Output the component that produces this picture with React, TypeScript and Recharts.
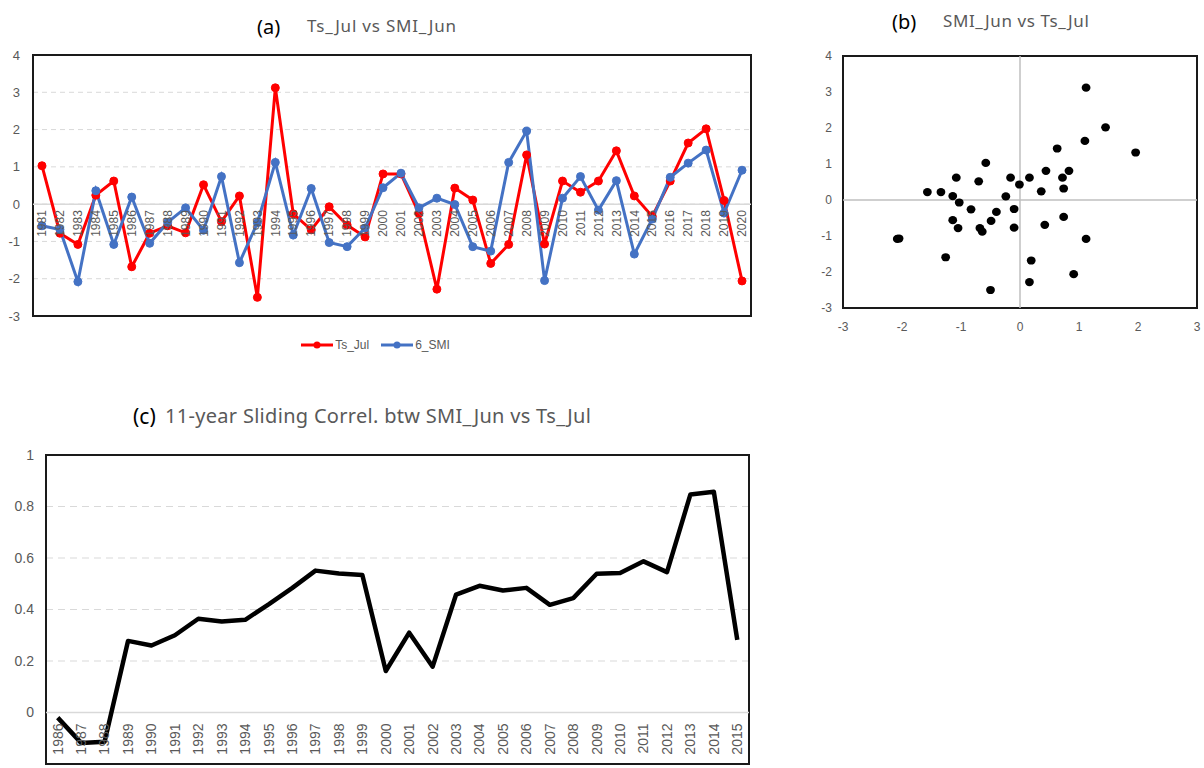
import React from "react";
import {
  LineChart,
  Line,
  ScatterChart,
  Scatter,
  XAxis,
  YAxis,
  CartesianGrid,
  ReferenceLine,
  ReferenceArea,
  Legend,
} from "recharts";

const years = [
  "1981", "1982", "1983", "1984", "1985", "1986", "1987", "1988", "1989", "1990",
  "1991", "1992", "1993", "1994", "1995", "1996", "1997", "1998", "1999", "2000",
  "2001", "2002", "2003", "2004", "2005", "2006", "2007", "2008", "2009", "2010",
  "2011", "2012", "2013", "2014", "2015", "2016", "2017", "2018", "2019", "2020",
];

// Ts_Jul (red)
const tsJul = [
  1.03, -0.78, -1.08, 0.24, 0.62, -1.68, -0.78, -0.58, -0.77, 0.52,
  -0.47, 0.22, -2.5, 3.12, -0.26, -0.69, -0.07, -0.56, -0.88, 0.81,
  0.81, -0.25, -2.28, 0.43, 0.11, -1.59, -1.08, 1.32, -1.07, 0.62,
  0.32, 0.62, 1.43, 0.22, -0.33, 0.62, 1.64, 2.02, 0.1, -2.06,
];

// 6_SMI (blue) = SMI_Jun
const smiJun = [
  -0.58, -0.68, -2.08, 0.36, -1.08, 0.19, -1.05, -0.49, -0.1, -0.7,
  0.74, -1.57, -0.5, 1.12, -0.83, 0.42, -1.03, -1.14, -0.64, 0.44,
  0.83, -0.1, 0.16, -0.01, -1.14, -1.26, 1.12, 1.96, -2.05, 0.16,
  0.74, -0.16, 0.63, -1.34, -0.4, 0.72, 1.1, 1.45, -0.24, 0.91,
];

const corrYears = [
  "1986", "1987", "1988", "1989", "1990", "1991", "1992", "1993", "1994", "1995",
  "1996", "1997", "1998", "1999", "2000", "2001", "2002", "2003", "2004", "2005",
  "2006", "2007", "2008", "2009", "2010", "2011", "2012", "2013", "2014", "2015",
];

const slidingCorr = [
  -0.02, -0.118, -0.114, 0.278, 0.26, 0.3, 0.364, 0.353, 0.36, 0.42,
  0.483, 0.551, 0.54, 0.534, 0.161, 0.31, 0.178, 0.458, 0.492, 0.474,
  0.484, 0.418, 0.444, 0.539, 0.542, 0.587, 0.545, 0.847, 0.857, 0.282,
];

const seriesNames = ["Ts_Jul", "6_SMI"];
const ticksA = [-3, -2, -1, 0, 1, 2, 3, 4];
const ticksBX = [-3, -2, -1, 0, 1, 2, 3];
const ticksC = [-0.2, 0, 0.2, 0.4, 0.6, 0.8, 1];

const seriesData = years.map((year, i) => ({ year, ts: tsJul[i], smi: smiJun[i] }));
const scatterData = years.map((_, i) => ({ smi: smiJun[i], ts: tsJul[i] }));
const corrData = corrYears.map((year, i) => ({ year, r: slidingCorr[i] }));

const TICK_FONT = "'Liberation Sans', Arial, sans-serif";
const TITLE_FONT = "'Noto Sans', 'Open Sans', sans-serif";
const GREY = "#595959";

// plot heights, used to lift the year labels up to the zero line
const A_PLOT_H = 261;
const C_PLOT_H = 309;
const zeroLift = (h: number, min: number, max: number) => (h * (0 - min)) / (max - min);

function YearTick(props: any) {
  const { x, y, payload, lift, gap, size } = props;
  return (
    <text
      transform={`translate(${x},${y - lift + gap}) rotate(-90)`}
      textAnchor="end"
      dy="0.35em"
      fill={GREY}
      fontSize={size}
      fontFamily={TICK_FONT}
    >
      {payload.value}
    </text>
  );
}

function LegendA(props: any) {
  const items = [...(props.payload || [])].sort(
    (a: any, b: any) => seriesNames.indexOf(a.value) - seriesNames.indexOf(b.value)
  );
  return (
    <div
      style={{
        display: "flex",
        justifyContent: "center",
        gap: 12,
        fontSize: 12,
        color: GREY,
        fontFamily: TICK_FONT,
        height: 18,
        alignItems: "center",
      }}
    >
      {items.map((p: any) => (
        <span key={p.value} style={{ display: "flex", alignItems: "center" }}>
          <svg width={32} height={10}>
            <line x1={0} y1={5} x2={32} y2={5} stroke={p.color} strokeWidth={3} />
            <circle cx={16} cy={5} r={3.5} fill={p.color} />
          </svg>
          <span style={{ marginLeft: 2 }}>{p.value}</span>
        </span>
      ))}
    </div>
  );
}

const titleStyle = (left: number, top: number, size: number, color: string, spacing = 0): React.CSSProperties => ({
  position: "absolute",
  left,
  top,
  fontSize: size,
  color,
  fontFamily: TITLE_FONT,
  whiteSpace: "nowrap",
  lineHeight: 1,
  letterSpacing: spacing,
});

export default function App() {
  return (
    <div style={{ position: "absolute", left: 0, top: 0, width: 1204, height: 768, background: "#fff", overflow: "hidden" }}>
      <div style={titleStyle(257, 17, 20, "#000")}>(a)</div>
      <div style={titleStyle(307, 17, 17, GREY, 0.8)}>Ts_Jul vs SMI_Jun</div>
      <div style={titleStyle(892, 12, 20, "#000")}>(b)</div>
      <div style={titleStyle(943, 12, 17, GREY, 0.6)}>SMI_Jun vs Ts_Jul</div>
      <div style={titleStyle(133, 406, 21, "#000")}>(c)</div>
      <div style={titleStyle(165, 406, 20, GREY, 0.3)}>11-year Sliding Correl. btw SMI_Jun vs Ts_Jul</div>

      {/* (a) time series */}
      <div style={{ position: "absolute", left: 0, top: 40 }}>
        <LineChart width={780} height={320} data={seriesData} margin={{ top: 15, right: 29, bottom: 6, left: 0 }}>
          <CartesianGrid vertical={false} stroke="#d9d9d9" strokeDasharray="5 4" />
          <ReferenceLine y={0} stroke="#d9d9d9" strokeWidth={1.5} />
          <XAxis
            dataKey="year"
            scale="band"
            interval={0}
            axisLine={false}
            tickLine={false}
            tickSize={0}
            tickMargin={0}
            height={20}
            tick={<YearTick lift={zeroLift(A_PLOT_H, -3, 4)} gap={6} size={12} />}
          />
          <YAxis
            domain={[-3, 4]}
            ticks={ticksA}
            width={33}
            axisLine={false}
            tickLine={false}
            tickSize={0}
            tickMargin={13}
            tick={{ fill: GREY, fontSize: 13, fontFamily: TICK_FONT }}
          />
          <Line
            name={seriesNames[0]}
            dataKey="ts"
            type="linear"
            stroke="#ff0000"
            strokeWidth={3}
            dot={{ r: 4, fill: "#ff0000", stroke: "#ff0000", strokeWidth: 1 }}
            isAnimationActive={false}
          />
          <Line
            name={seriesNames[1]}
            dataKey="smi"
            type="linear"
            stroke="#4472c4"
            strokeWidth={3}
            dot={{ r: 4, fill: "#4472c4", stroke: "#4472c4", strokeWidth: 1 }}
            isAnimationActive={false}
          />
          <ReferenceArea y1={-3} y2={4} fill="none" stroke="#1a1a1a" strokeWidth={2} />
          <Legend verticalAlign="bottom" height={18} content={<LegendA />} />
        </LineChart>
      </div>

      {/* (b) scatter */}
      <div style={{ position: "absolute", left: 800, top: 40 }}>
        <ScatterChart width={404} height={300} margin={{ top: 16, right: 7, bottom: 0, left: 0 }}>
          <XAxis
            type="number"
            dataKey="smi"
            domain={[-3, 3]}
            ticks={ticksBX}
            height={32}
            axisLine={false}
            tickLine={false}
            tickSize={0}
            tickMargin={14}
            tick={{ fill: GREY, fontSize: 12, fontFamily: TICK_FONT }}
          />
          <YAxis
            type="number"
            dataKey="ts"
            domain={[-3, 4]}
            ticks={ticksA}
            width={43}
            axisLine={false}
            tickLine={false}
            tickSize={0}
            tickMargin={11}
            tick={{ fill: GREY, fontSize: 12, fontFamily: TICK_FONT }}
          />
          <ReferenceLine x={0} stroke="#bfbfbf" strokeWidth={1.5} />
          <ReferenceLine y={0} stroke="#bfbfbf" strokeWidth={1.5} />
          <Scatter
            data={scatterData}
            fill="#000"
            isAnimationActive={false}
            shape={(p: any) => <ellipse cx={p.cx} cy={p.cy} rx={4.4} ry={4.1} fill="#000" />}
          />
          <ReferenceArea x1={-3} x2={3} y1={-3} y2={4} fill="none" stroke="#1a1a1a" strokeWidth={2} />
        </ScatterChart>
      </div>

      {/* (c) sliding correlation */}
      <div style={{ position: "absolute", left: 0, top: 440 }}>
        <LineChart width={780} height={328} data={corrData} margin={{ top: 15, right: 31, bottom: 0, left: 0 }}>
          <CartesianGrid vertical={false} stroke="#d9d9d9" strokeDasharray="7 5" />
          <ReferenceLine y={0} stroke="#d9d9d9" strokeWidth={1.5} />
          <XAxis
            dataKey="year"
            scale="band"
            interval={0}
            axisLine={false}
            tickLine={false}
            tickSize={0}
            tickMargin={0}
            height={4}
            tick={<YearTick lift={zeroLift(C_PLOT_H, -0.2, 1)} gap={11} size={14} />}
          />
          <YAxis
            domain={[-0.2, 1]}
            ticks={ticksC}
            width={46}
            axisLine={false}
            tickLine={false}
            tickSize={0}
            tickMargin={12}
            tick={{ fill: GREY, fontSize: 14, fontFamily: TICK_FONT }}
          />
          <Line
            dataKey="r"
            type="linear"
            stroke="#000"
            strokeWidth={4.5}
            strokeLinejoin="round"
            dot={false}
            isAnimationActive={false}
          />
          <ReferenceArea y1={-0.2} y2={1} fill="none" stroke="#1a1a1a" strokeWidth={2} />
        </LineChart>
      </div>
    </div>
  );
}
